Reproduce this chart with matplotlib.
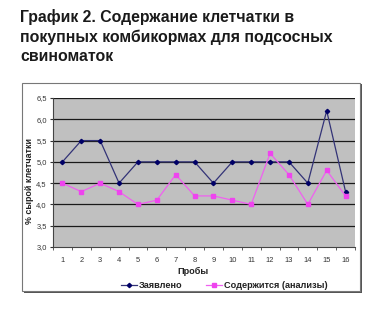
import matplotlib
matplotlib.use("Agg")
import matplotlib.pyplot as plt
from matplotlib.patches import Rectangle
from matplotlib.ticker import FixedLocator, FuncFormatter

samples = list(range(1, 17))
declared = [5.0, 5.5, 5.5, 4.5, 5.0, 5.0, 5.0, 5.0, 4.5, 5.0, 5.0, 5.0, 5.0, 4.5, 6.2, 4.3]
analysed = [4.5, 4.3, 4.5, 4.3, 4.0, 4.1, 4.7, 4.2, 4.2, 4.1, 4.0, 5.2, 4.7, 4.0, 4.8, 4.2]
yticks = [3.0, 3.5, 4.0, 4.5, 5.0, 5.5, 6.0, 6.5]

title = "График 2. Содержание клетчатки в\nпокупных комбикормах для подсосных\nсвиноматок"
ylabel = "% сырой клетчатки"
xlabel = "Пробы"
name_declared = "Заявлено"
name_analysed = "Содержится (анализы)"

plt.rcParams['font.family'] = ['Liberation Sans', 'DejaVu Sans']

W, H = 384, 310
fig = plt.figure(figsize=(W / 100, H / 100), dpi=100)
fig.patch.set_facecolor("white")

fig.text(20 / W, 1 - 9 / H, title, ha="left", va="top", fontsize=11.4,
         fontweight="bold", color="#1a1a1a", linespacing=1.33)

# outer chart frame with shadow
fig.patches.append(Rectangle((24 / W, 1 - 293 / H), 338 / W, 209 / H,
                             transform=fig.transFigure, facecolor="#555555",
                             edgecolor="none", zorder=0))
fig.patches.append(Rectangle((22 / W, 1 - 291 / H), 338 / W, 208 / H,
                             transform=fig.transFigure, facecolor="white",
                             edgecolor="#777777", linewidth=0.8, zorder=0.5))

left, right, top, bottom = 53, 355, 98, 247
ax = fig.add_axes([left / W, 1 - bottom / H, (right - left) / W, (bottom - top) / H])
ax.set_zorder(2)
ax.set_facecolor("#c0c0c0")
ax.set_xlim(0.5, 16.5)
ax.set_ylim(3.0, 6.5)
ax.set_yticks(yticks)
ax.yaxis.set_major_formatter(FuncFormatter(lambda v, p: f"{v:.1f}".replace(".", ",")))
for y in yticks[1:]:
    ax.axhline(y, color="#1a1a1a", linewidth=0.9, zorder=1)

ax.plot(samples, declared, color="#333377", linewidth=0.9, marker="D",
        markersize=2.2, markerfacecolor="#000066", markeredgecolor="#000066", zorder=3)
ax.plot(samples, analysed, color="#f060f0", linewidth=0.9, marker="s",
        markersize=2.6, markerfacecolor="#ee44ee", markeredgecolor="#ee44ee", zorder=3)

ax.set_xticks(samples)
ax.set_xticklabels([str(s) for s in samples])
ax.xaxis.set_minor_locator(FixedLocator([i + 0.5 for i in range(0, 17)]))
ax.tick_params(axis="x", which="major", length=0, labelsize=5.4, pad=7, colors="#333333")
ax.tick_params(axis="x", which="minor", length=2.5, color="#444444")
ax.tick_params(axis="y", length=2.5, labelsize=5.4, pad=2, colors="#333333")
for s in ["top", "right"]:
    ax.spines[s].set_visible(False)
for s in ["left", "bottom"]:
    ax.spines[s].set_color("#444444")
    ax.spines[s].set_linewidth(0.8)

ax.set_ylabel(ylabel, fontsize=6.4, color="#222222", fontweight="bold")
ax.yaxis.set_label_coords((34 - left) / (right - left), (bottom - 181) / (bottom - top))
ax.set_xlabel(xlabel, fontsize=6.6, color="#222222", fontweight="bold")
ax.xaxis.set_label_coords((193 - left) / (right - left), -(267 - bottom) / (bottom - top))

leg = fig.legend(handles=[ax.lines[-2], ax.lines[-1]], labels=[name_declared, name_analysed],
                 loc="center left", bbox_to_anchor=(121 / W, 1 - 286 / H), ncol=2,
                 frameon=False, borderpad=0, borderaxespad=0,
                 prop={"size": 6.6, "weight": "bold"}, handlelength=1.7, columnspacing=2.6,
                 handletextpad=0.25)
for t in leg.get_texts():
    t.set_color("#222222")
leg.set_zorder(3)

fig.savefig("out.png", dpi=100, facecolor="white")
